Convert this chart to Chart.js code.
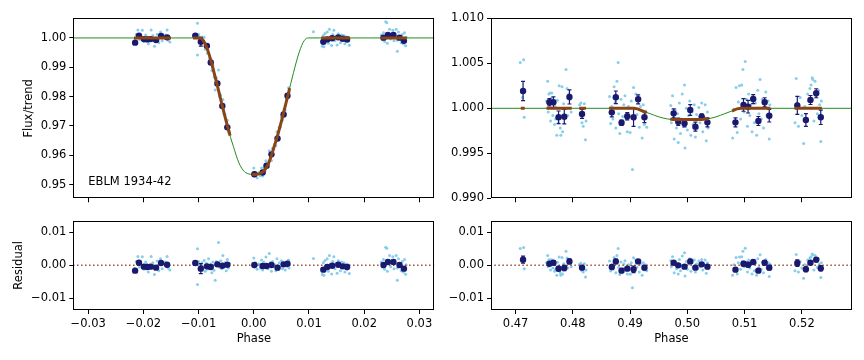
<!DOCTYPE html>
<html>
<head>
<meta charset="utf-8">
<script src="https://cdn.jsdelivr.net/npm/chart.js@4.4.0/dist/chart.umd.min.js"></script>
<style>
html, body { margin:0; padding:0; background:#fff; }
#wrap { position:relative; width:864px; height:360px; overflow:hidden; }
canvas { position:absolute; }
</style>
</head>
<body>
<div id="wrap">
  <canvas id="tl" width="440" height="210" style="left:0;top:0"></canvas>
  <canvas id="bl" width="440" height="150" style="left:0;top:210px"></canvas>
  <canvas id="tr" width="424" height="210" style="left:440px;top:0"></canvas>
  <canvas id="br" width="424" height="150" style="left:440px;top:210px"></canvas>
</div>
<script>
const starName = 'EBLM 1934-42';

// ---- primary eclipse (left) ----
const xTicksA = [-0.03, -0.02, -0.01, 0, 0.01, 0.02, 0.03];
const fluxTicksA = [0.95, 0.96, 0.97, 0.98, 0.99, 1.00];
const resTicks = [-0.01, 0, 0.01];

const modelPhaseA = [-0.0340, -0.0099, -0.0095, -0.0091, -0.0087, -0.0082, -0.0077, -0.0072, -0.0067, -0.0062, -0.0057,
  -0.0052, -0.0047, -0.0042, -0.0037, -0.0032, -0.0027, -0.0022, -0.0017, -0.0012, -0.0006, 0.0000,
  0.0006, 0.0012, 0.0017, 0.0022, 0.0027, 0.0032, 0.0037, 0.0042, 0.0047, 0.0052, 0.0057, 0.0062,
  0.0067, 0.0072, 0.0077, 0.0082, 0.0087, 0.0091, 0.0095, 0.0099, 0.0340];
const modelFluxA = [1.0000, 1.0000, 0.9998, 0.9990, 0.9975, 0.9950, 0.9918, 0.9882, 0.9845, 0.9806, 0.9768,
  0.9730, 0.9694, 0.9660, 0.9630, 0.9600, 0.9574, 0.9556, 0.9544, 0.9538, 0.9535, 0.9534,
  0.9535, 0.9538, 0.9544, 0.9556, 0.9574, 0.9600, 0.9630, 0.9660, 0.9694, 0.9730, 0.9768, 0.9806,
  0.9845, 0.9882, 0.9918, 0.9950, 0.9975, 0.9990, 0.9998, 1.0000, 1.0000];

const brownPhaseA = [-0.0217, -0.0150, null,
  -0.0110, -0.0099, -0.0095, -0.0091, -0.0087, -0.0082, -0.0077, -0.0072, -0.0067, -0.0062, -0.0057, -0.0052, -0.0047, -0.0043, null,
  -0.0003, 0.0000, 0.0006, 0.0012, 0.0017, 0.0022, 0.0027, 0.0032, 0.0037, 0.0042, 0.0047, 0.0052, 0.0057, 0.0062, 0.0065, null,
  0.0122, 0.0174, null, 0.0230, 0.0277];
const brownFluxA = [1, 1, null,
  1, 1, 0.9998, 0.9990, 0.9975, 0.9950, 0.9918, 0.9882, 0.9845, 0.9806, 0.9768, 0.9730, 0.9694, 0.9667, null,
  0.9534, 0.9534, 0.9535, 0.9538, 0.9544, 0.9556, 0.9574, 0.9600, 0.9630, 0.9660, 0.9694, 0.9730, 0.9768, 0.9806, 0.9829, null,
  1, 1, null, 1, 1];

const binPhaseA = [-0.0215, -0.0208, -0.0199, -0.0193, -0.0187, -0.0177, -0.0168, -0.0157,
  -0.0106, -0.0096, -0.0085, -0.0078, -0.0066, -0.0057, -0.0048,
  0.0001, 0.0016, 0.0023, 0.0032, 0.0043, 0.0054, 0.0061,
  0.0126, 0.0133, 0.0142, 0.0153, 0.0161, 0.0169,
  0.0235, 0.0243, 0.0253, 0.0264, 0.0272];
const binFluxA = [0.9984, 1.0008, 0.9996, 0.9995, 0.9996, 0.9993, 1.0007, 1.0002,
  1.0008, 0.9987, 0.9973, 0.9916, 0.9845, 0.9768, 0.9695,
  0.9535, 0.9541, 0.9564, 0.9603, 0.9657, 0.9739, 0.9803,
  0.9987, 0.9995, 0.9999, 1.0002, 0.9997, 0.9995,
  1.0001, 1.0010, 1.0010, 1.0001, 0.9990];
const binErrA = [0.0005, 0.0005, 0.0005, 0.0005, 0.0005, 0.0005, 0.0005, 0.0005,
  0.0005, 0.0015, 0.0005, 0.0005, 0.0006, 0.0005, 0.0005,
  0.0004, 0.0004, 0.0004, 0.0004, 0.0004, 0.0004, 0.0004,
  0.0005, 0.0005, 0.0005, 0.0005, 0.0005, 0.0005,
  0.0005, 0.0005, 0.0005, 0.0005, 0.0005];
const binResA = [-0.0016, 0.0008, -0.0004, -0.0005, -0.0004, -0.0007, 0.0007, 0.0002,
  0.0007, -0.0010, -0.0003, -0.0005, 0.0003, -0.0001, 0.0002,
  0.0001, -0.0002, -0.0002, 0.0001, -0.0007, 0.0003, 0.0005,
  -0.0013, -0.0005, -0.0001, 0.0002, -0.0003, -0.0005,
  0.0001, 0.0010, 0.0010, 0.0001, -0.0010];

const rawPhaseA = [
  -0.0216, -0.0213, -0.0210, -0.0207, -0.0205, -0.0202, -0.0199, -0.0196, -0.0194, -0.0191, -0.0189, -0.0186,
  -0.0183, -0.0180, -0.0178, -0.0175, -0.0172, -0.0169, -0.0166, -0.0163, -0.0160, -0.0157, -0.0155, -0.0152,
  -0.0108, -0.0104, -0.0102, -0.0102, -0.0100, -0.0098, -0.0096, -0.0094, -0.0092, -0.0090, -0.0088, -0.0086,
  -0.0084, -0.0082, -0.0080, -0.0078, -0.0076, -0.0074, -0.0072, -0.0070, -0.0068, -0.0064, -0.0062, -0.0060,
  -0.0058, -0.0056, -0.0054, -0.0052, -0.0050, -0.0048, -0.0046, -0.0044,
  0.0000, 0.0001, 0.0003, 0.0006, 0.0009, 0.0012, 0.0014, 0.0016, 0.0018, 0.0020, 0.0022, 0.0026, 0.0028,
  0.0030, 0.0032, 0.0034, 0.0036, 0.0038, 0.0040, 0.0042, 0.0044, 0.0046, 0.0048, 0.0050, 0.0052, 0.0055,
  0.0057, 0.0059, 0.0061, 0.0063, 0.0064,
  0.0108, 0.0123, 0.0124, 0.0126, 0.0127, 0.0129, 0.0131, 0.0133, 0.0135, 0.0137, 0.0139, 0.0141, 0.0143,
  0.0145, 0.0147, 0.0149, 0.0151, 0.0153, 0.0155, 0.0157, 0.0159, 0.0161, 0.0163, 0.0165, 0.0167, 0.0169,
  0.0171, 0.0173,
  0.0231, 0.0233, 0.0235, 0.0237, 0.0239, 0.0241, 0.0242, 0.0244, 0.0246, 0.0248, 0.0250, 0.0252, 0.0254,
  0.0256, 0.0258, 0.0260, 0.0260, 0.0262, 0.0265, 0.0267, 0.0269, 0.0271, 0.0273, 0.0275, 0.0276];
const rawFluxA = [
  0.9990, 1.0012, 1.0027, 0.9995, 1.0005, 1.0026, 0.9988, 1.0010, 1.0004, 0.9980, 0.9994, 1.0027,
  1.0008, 0.9972, 0.9996, 1.0013, 0.9984, 1.0020, 0.9990, 1.0006, 1.0010, 1.0027, 0.9992, 0.9986,
  1.0010, 1.0003, 1.0050, 0.9942, 1.0012, 1.0002, 0.9987, 1.0003, 0.9988, 1.0002, 0.9961, 0.9976,
  0.9948, 0.9970, 0.9929, 0.9928, 0.9889, 0.9906, 0.9867, 0.9822, 0.9864, 0.9891, 0.9800, 0.9805,
  0.9766, 0.9790, 0.9741, 0.9738, 0.9700, 0.9719, 0.9679, 0.9680,
  0.9556, 0.9529, 0.9542, 0.9523, 0.9540, 0.9530, 0.9556, 0.9529, 0.9556, 0.9545, 0.9581, 0.9560, 0.9615,
  0.9598, 0.9582, 0.9624, 0.9620, 0.9638, 0.9632, 0.9680, 0.9662, 0.9695, 0.9695, 0.9730, 0.9720, 0.9757,
  0.9754, 0.9793, 0.9794, 0.9830, 0.9814,
  1.0021, 0.9988, 0.9972, 1.0008, 0.9970, 1.0015, 0.9994, 1.0020, 0.9982, 1.0030, 1.0004, 0.9974, 1.0012,
  1.0026, 0.9990, 1.0006, 0.9976, 1.0014, 1.0002, 0.9984, 1.0010, 0.9996, 1.0008, 0.9980, 1.0004, 0.9988,
  1.0002, 0.9975,
  1.0010, 0.9994, 1.0018, 0.9988, 1.0055, 1.0052, 0.9982, 1.0008, 1.0030, 0.9996, 1.0014, 1.0026, 0.9990,
  1.0006, 1.0030, 0.9992, 0.9955, 1.0020, 1.0004, 0.9984, 1.0012, 0.9980, 1.0018, 0.9973, 1.0002];
const rawResA = [
  -0.0010, 0.0012, 0.0027, -0.0005, 0.0005, 0.0026, -0.0012, 0.0010, 0.0004, -0.0020, -0.0006, 0.0027,
  0.0008, -0.0028, -0.0004, 0.0013, -0.0016, 0.0020, -0.0010, 0.0006, 0.0010, 0.0027, -0.0008, -0.0014,
  0.0010, 0.0003, 0.0050, -0.0058, 0.0012, 0.0002, -0.0010, 0.0008, -0.0004, 0.0015, -0.0018, 0.0006,
  -0.0012, 0.0020, -0.0008, 0.0004, -0.0022, 0.0010, -0.0015, -0.0045, 0.0012, 0.0069, -0.0006, 0.0014,
  -0.0010, 0.0030, -0.0004, 0.0008, -0.0016, 0.0018, -0.0008, 0.0006,
  0.0022, -0.0005, 0.0008, -0.0012, 0.0004, -0.0008, 0.0016, -0.0014, 0.0010, -0.0006, 0.0025, -0.0010, 0.0036,
  0.0008, -0.0018, 0.0012, -0.0004, 0.0002, -0.0016, 0.0020, -0.0012, 0.0008, -0.0006, 0.0014, -0.0010, 0.0004,
  -0.0014, 0.0010, -0.0004, 0.0016, -0.0008,
  0.0021, -0.0012, -0.0028, 0.0008, -0.0030, 0.0015, -0.0006, 0.0020, -0.0018, 0.0030, 0.0004, -0.0026, 0.0012,
  0.0026, -0.0010, 0.0006, -0.0024, 0.0014, 0.0002, -0.0016, 0.0010, -0.0004, 0.0008, -0.0020, 0.0004, -0.0012,
  0.0002, -0.0025,
  0.0010, -0.0006, 0.0018, -0.0012, 0.0055, 0.0052, -0.0018, 0.0008, 0.0030, -0.0004, 0.0014, 0.0026, -0.0010,
  0.0006, 0.0030, -0.0008, -0.0045, 0.0020, 0.0004, -0.0016, 0.0012, -0.0020, 0.0018, -0.0027, 0.0002];

// ---- secondary eclipse (right) ----
const xTicksB = [0.47, 0.48, 0.49, 0.50, 0.51, 0.52];
const fluxTicksB = [0.990, 0.995, 1.000, 1.005, 1.010];

const modelPhaseB = [0.4600, 0.4906, 0.4913, 0.4920, 0.4935, 0.4950, 0.4965, 0.4975, 0.5025, 0.5035, 0.5050,
  0.5065, 0.5080, 0.5087, 0.5094, 0.5340];
const modelFluxB = [1, 1, 0.99993, 0.99975, 0.9994, 0.99905, 0.99882, 0.99876, 0.99876, 0.99882, 0.99905,
  0.9994, 0.99975, 0.99993, 1, 1];

const brownPhaseB = [0.4709, 0.4716, null, 0.4754, 0.4798, null, 0.4811, 0.4823, null,
  0.4863, 0.4906, 0.4913, 0.4920, 0.4929, null, 0.4970, 0.4975, 0.5025, 0.5035, 0.5037, null,
  0.5078, 0.5080, 0.5087, 0.5094, 0.5145, null, 0.5187, 0.5235];
const brownFluxB = [1, 1, null, 1, 1, null, 1, 1, null,
  1, 1, 0.99993, 0.99975, 0.99950, null, 0.99878, 0.99876, 0.99876, 0.99882, 0.99884, null,
  0.99970, 0.99975, 0.99993, 1, 1, null, 1, 1];

const binPhaseB = [0.4713, 0.4759, 0.4766, 0.4775, 0.4785, 0.4794, 0.4816,
  0.4868, 0.4875, 0.4885, 0.4895, 0.4906, 0.4914, 0.4925,
  0.4976, 0.4984, 0.4995, 0.5005, 0.5014, 0.5025, 0.5035,
  0.5084, 0.5098, 0.5106, 0.5115, 0.5124, 0.5135, 0.5143,
  0.5192, 0.5207, 0.5215, 0.5225, 0.5233];
const binFluxB = [1.00192, 1.00067, 1.00067, 0.99900, 0.99907, 1.00126, 0.99937,
  0.99955, 1.00122, 0.99840, 0.99911, 0.99900, 1.00100, 0.99900,
  0.99944, 0.99851, 0.99833, 0.99981, 0.99796, 0.99907, 0.99844,
  0.99844, 1.00037, 1.00018, 1.00103, 0.99859, 1.00067, 0.99918,
  1.00033, 0.99870, 1.00092, 1.00167, 0.99900];
const binErrB = [0.00107, 0.0004, 0.0006, 0.0007, 0.0008, 0.00078, 0.0005,
  0.0005, 0.0007, 0.0003, 0.0004, 0.0010, 0.0005, 0.0006,
  0.0005, 0.0004, 0.0004, 0.0006, 0.0005, 0.0003, 0.0005,
  0.0005, 0.0007, 0.0007, 0.0005, 0.0005, 0.0005, 0.0007,
  0.0010, 0.0007, 0.0005, 0.0005, 0.0008];
const binResB = [0.0017, 0.0005, 0.0008, -0.0010, -0.0008, 0.0012, -0.0007,
  -0.0005, 0.0012, -0.0016, -0.0010, -0.0012, 0.0012, -0.0007,
  0.0008, 0.0000, -0.0004, 0.0012, -0.0007, 0.0003, -0.0004,
  -0.0013, 0.0005, 0.0002, 0.0010, -0.0016, 0.0008, -0.0007,
  0.0007, -0.0012, 0.0008, 0.0017, -0.0009];

const rawPhaseB = [
  0.4708, 0.4710, 0.4712, 0.4714, 0.4715,
  0.4754, 0.4756, 0.4757, 0.4758, 0.4760, 0.4761, 0.4762, 0.4763, 0.4765, 0.4766, 0.4768, 0.4769, 0.4770,
  0.4772, 0.4773, 0.4775, 0.4776, 0.4778, 0.4779, 0.4781, 0.4782, 0.4784, 0.4786, 0.4788, 0.4790, 0.4791,
  0.4793, 0.4795, 0.4797,
  0.4812, 0.4814, 0.4816, 0.4818, 0.4820, 0.4822, 0.4823,
  0.4864, 0.4866, 0.4868, 0.4870, 0.4872, 0.4874, 0.4875, 0.4877, 0.4879, 0.4880, 0.4882, 0.4884, 0.4886,
  0.4887, 0.4889, 0.4891, 0.4893, 0.4895, 0.4897, 0.4899, 0.4900, 0.4902, 0.4904, 0.4906, 0.4908, 0.4910,
  0.4912, 0.4914, 0.4916, 0.4918, 0.4921, 0.4923, 0.4925, 0.4927, 0.4929,
  0.4971, 0.4972, 0.4974, 0.4976, 0.4977, 0.4979, 0.4981, 0.4983, 0.4984, 0.4986, 0.4988, 0.4990, 0.4991,
  0.4993, 0.4995, 0.4996, 0.4998, 0.5000, 0.5002, 0.5004, 0.5006, 0.5008, 0.5010, 0.5012, 0.5014, 0.5016,
  0.5018, 0.5020, 0.5022, 0.5025, 0.5027, 0.5029, 0.5031, 0.5033, 0.5035, 0.5036,
  0.5079, 0.5081, 0.5083, 0.5085, 0.5087, 0.5089, 0.5091, 0.5093, 0.5095, 0.5097, 0.5099, 0.5101, 0.5103,
  0.5105, 0.5107, 0.5109, 0.5111, 0.5113, 0.5115, 0.5117, 0.5119, 0.5121, 0.5123, 0.5125, 0.5127, 0.5129,
  0.5131, 0.5133, 0.5135, 0.5137, 0.5139, 0.5141, 0.5143, 0.5144,
  0.5188, 0.5190, 0.5192, 0.5194, 0.5197, 0.5200, 0.5203, 0.5205, 0.5207, 0.5210, 0.5212, 0.5214, 0.5216,
  0.5218, 0.5219, 0.5221, 0.5223, 0.5225, 0.5227, 0.5229, 0.5231, 0.5233, 0.5234];
const rawFluxB = [
  1.0051, 1.0018, 1.0012, 1.0054, 0.9990,
  1.0008, 1.0030, 0.9996, 1.0016, 1.0017, 0.9986, 1.0011, 1.0017, 0.9992, 1.0006, 0.9982, 1.0002, 0.9988,
  0.9970, 1.0009, 0.9984, 1.0025, 0.9978, 0.9970, 1.0024, 0.9974, 1.0005, 0.9990, 1.0043, 1.0022, 0.9992,
  1.0016, 1.0010, 0.9996,
  1.0004, 1.0006, 0.9984, 0.9980, 1.0005, 0.9965, 0.9986,
  1.0013, 0.9983, 1.0002, 0.9988, 1.0024, 1.0007, 0.9978, 1.0030, 1.0051, 0.9994, 0.9972, 1.0010, 0.9984,
  0.9991, 1.0004, 1.0014, 0.9988, 0.9974, 1.0002, 1.0000, 0.9973, 1.0008, 0.9932, 1.0023, 0.9988, 1.0016,
  0.9993, 1.0010, 0.9979, 1.0002, 0.9967, 1.0004, 0.9982, 0.9997, 0.9979,
  1.0003, 0.9984, 1.0014, 0.9990, 0.9966, 0.9998, 0.9978, 0.9994, 0.9962, 1.0006, 0.9972, 0.9988, 1.0016,
  0.9980, 1.0026, 0.9956, 1.0000, 0.9976, 0.9992, 1.0008, 0.9970, 0.9996, 0.9982, 1.0004, 0.9968, 0.9993,
  0.9978, 1.0001, 0.9984, 1.0006, 0.9974, 0.9990, 1.0004, 0.9964, 0.9996, 0.9978,
  0.9967, 0.9999, 0.9985, 1.0023, 0.9973, 1.0007, 1.0025, 0.9988, 1.0026, 1.0043, 0.9996, 1.0052, 1.0010,
  0.9980, 1.0016, 0.9992, 1.0004, 0.9974, 1.0012, 0.9984, 1.0006, 0.9970, 1.0020, 0.9994, 1.0032, 0.9988,
  1.0010, 0.9978, 1.0002, 1.0018, 0.9992, 1.0008, 0.9966, 1.0004,
  0.9984, 1.0033, 1.0006, 0.9980, 1.0012, 0.9992, 0.9961, 1.0002, 0.9988, 1.0016, 1.0008, 1.0022, 1.0026,
  1.0034, 1.0032, 0.9986, 1.0030, 1.0014, 0.9994, 1.0020, 1.0004, 0.9963, 1.0008];
const rawResB = [
  0.0051, 0.0018, 0.0012, 0.0054, -0.0010,
  0.0008, 0.0030, -0.0004, 0.0016, 0.0017, -0.0014, 0.0011, 0.0017, -0.0008, 0.0006, -0.0018, 0.0002, -0.0012,
  -0.0030, 0.0009, -0.0016, 0.0025, -0.0022, -0.0030, 0.0024, -0.0026, 0.0005, -0.0010, 0.0043, 0.0022, -0.0008,
  0.0016, 0.0010, -0.0004,
  0.0004, 0.0006, -0.0016, -0.0020, 0.0005, -0.0035, -0.0014,
  0.0013, -0.0017, 0.0002, -0.0012, 0.0024, 0.0007, -0.0022, 0.0030, 0.0051, -0.0006, -0.0028, 0.0010, -0.0016,
  -0.0009, 0.0004, 0.0014, -0.0012, -0.0026, 0.0002, 0.0000, -0.0027, 0.0008, -0.0068, 0.0023, -0.0012, 0.0016,
  -0.0006, 0.0012, -0.0020, 0.0004, -0.0030, 0.0008, -0.0014, 0.0002, -0.0016,
  0.0015, -0.0004, 0.0026, 0.0002, -0.0022, 0.0010, -0.0010, 0.0006, -0.0026, 0.0018, -0.0016, 0.0000, 0.0028,
  -0.0008, 0.0038, -0.0032, 0.0012, -0.0012, 0.0004, 0.0020, -0.0018, 0.0008, -0.0006, 0.0016, -0.0020, 0.0005,
  -0.0010, 0.0013, -0.0004, 0.0018, -0.0014, 0.0002, 0.0016, -0.0024, 0.0008, -0.0010,
  -0.0030, 0.0002, -0.0014, 0.0024, -0.0026, 0.0008, 0.0025, -0.0012, 0.0026, 0.0043, -0.0004, 0.0052, 0.0010,
  -0.0020, 0.0016, -0.0008, 0.0004, -0.0026, 0.0012, -0.0016, 0.0006, -0.0030, 0.0020, -0.0006, 0.0032, -0.0012,
  0.0010, -0.0022, 0.0002, 0.0018, -0.0008, 0.0008, -0.0034, 0.0004,
  -0.0016, 0.0033, 0.0006, -0.0020, 0.0012, -0.0008, -0.0039, 0.0002, -0.0012, 0.0016, 0.0008, 0.0022, 0.0026,
  0.0034, 0.0032, -0.0014, 0.0030, 0.0014, -0.0006, 0.0020, 0.0004, -0.0037, 0.0008];

// ---- drawing ----
const FS = 11.5;
Chart.defaults.font.family = "'DejaVu Sans', sans-serif";
Chart.defaults.font.size = FS;
Chart.defaults.color = '#000';

const RAW = 'skyblue', BIN = 'midnightblue', MODEL = 'forestgreen', FIT = 'saddlebrown';

const pts = (xs, ys) => xs.map((x, i) => ({ x: x === null ? xs[i - 1] : x, y: ys[i] }));
const fmt = d => v => (v < -1e-12 ? '\u2212' : '') + Math.abs(v).toFixed(d);
const blank = () => '';

const frame = {
  id: 'frame',
  afterDraw(chart) {
    const { ctx, chartArea: a } = chart;
    ctx.save();
    ctx.strokeStyle = '#000'; ctx.lineWidth = 1;
    ctx.strokeRect(Math.round(a.left) + 0.5, Math.round(a.top) + 0.5,
      Math.round(a.right - a.left) - 1, Math.round(a.bottom - a.top) - 1);
    ctx.restore();
  }
};

const errorBars = {
  id: 'errorBars',
  beforeDatasetDraw(chart, args) {
    const ds = chart.data.datasets[args.index];
    if (!ds.errors) return;
    const { ctx, scales: { x, y } } = chart;
    ctx.save();
    ctx.strokeStyle = ds.backgroundColor; ctx.lineWidth = 1.2;
    ds.data.forEach((p, i) => {
      const px = x.getPixelForValue(p.x);
      const y1 = y.getPixelForValue(p.y - ds.errors[i]);
      const y2 = y.getPixelForValue(p.y + ds.errors[i]);
      ctx.beginPath();
      ctx.moveTo(px, y1); ctx.lineTo(px, y2);
      ctx.moveTo(px - 2, y1); ctx.lineTo(px + 2, y1);
      ctx.moveTo(px - 2, y2); ctx.lineTo(px + 2, y2);
      ctx.stroke();
    });
    ctx.restore();
  }
};

const starLabel = {
  id: 'starLabel',
  afterDraw(chart) {
    const { ctx, chartArea: a } = chart;
    ctx.save();
    ctx.font = FS + "px 'DejaVu Sans'";
    ctx.fillStyle = '#000';
    ctx.fillText(starName, a.left + 15, a.bottom - 13.5);
    ctx.restore();
  }
};

function axis(min, max, ticks, label, size, title, titlePad) {
  return {
    type: 'linear', min, max,
    afterBuildTicks: s => { s.ticks = ticks.map(v => ({ value: v })); },
    afterFit: s => { if (s.isHorizontal()) s.height = size; else s.width = size; },
    grid: { drawOnChartArea: false, drawTicks: true, tickLength: 4, color: '#000', lineWidth: 1 },
    border: { display: false },
    ticks: { padding: 3, autoSkip: false, maxRotation: 0, callback: v => label(v) },
    title: title ? { display: true, text: title, padding: titlePad } : { display: false }
  };
}

const rawSet = (xs, ys) => ({ data: pts(xs, ys), pointRadius: 1.5, pointBorderWidth: 0,
  backgroundColor: RAW, borderColor: RAW, order: 5 });
const lineSet = (xs, ys, color, w, order) => ({ data: pts(xs, ys), showLine: true, pointRadius: 0,
  borderColor: color, borderWidth: w, spanGaps: false, cubicInterpolationMode: 'monotone', order });
const binSet = (xs, ys, errs) => ({ data: pts(xs, ys), errors: errs, pointRadius: 3.2, pointBorderWidth: 0,
  backgroundColor: BIN, borderColor: BIN, order: 2 });
const zeroSet = (lo, hi) => ({ data: [{ x: lo, y: 0 }, { x: hi, y: 0 }], showLine: true, pointRadius: 0,
  borderColor: 'sienna', borderWidth: 1.5, borderDash: [1.5, 2.5], order: 3 });

function panel(id, datasets, pad, x, y, extra) {
  return new Chart(document.getElementById(id), {
    type: 'scatter',
    data: { datasets },
    options: {
      responsive: false, animation: false, events: [],
      layout: { padding: pad },
      plugins: { legend: { display: false }, tooltip: { enabled: false } },
      scales: { x, y }
    },
    plugins: [errorBars, frame].concat(extra || [])
  });
}

// top left: primary eclipse
panel('tl', [
  rawSet(rawPhaseA, rawFluxA),
  lineSet(modelPhaseA, modelFluxA, MODEL, 1, 4),
  binSet(binPhaseA, binFluxA, binErrA),
  lineSet(brownPhaseA, brownFluxA, FIT, 3, 1)
], { left: 0, top: 18.3, right: 5.7, bottom: 0 },
  axis(-0.0327, 0.0327, xTicksA, blank, 11.7),
  axis(0.9453, 1.0067, fluxTicksA, fmt(2), 73.3, 'Flux/trend', { top: 22, bottom: 0 }),
  [starLabel]);

// bottom left: residuals
panel('bl', [
  rawSet(rawPhaseA, rawResA),
  zeroSet(-0.04, 0.04),
  binSet(binPhaseA, binResA, binErrA)
], { left: 0, top: 10.7, right: 5.7, bottom: 0 },
  axis(-0.0327, 0.0327, xTicksA, fmt(2), 50, 'Phase', { top: 0, bottom: 14 }),
  axis(-0.0135, 0.0135, resTicks, fmt(2), 73.3, 'Residual', { top: 12, bottom: 0 }));

// top right: secondary eclipse
panel('tr', [
  rawSet(rawPhaseB, rawFluxB),
  lineSet(modelPhaseB, modelFluxB, MODEL, 1, 4),
  binSet(binPhaseB, binFluxB, binErrB),
  lineSet(brownPhaseB, brownFluxB, FIT, 3, 1)
], { left: 0, top: 18.3, right: 12.3, bottom: 0 },
  axis(0.4657, 0.5287, xTicksB, blank, 11.7),
  axis(0.990, 1.010, fluxTicksB, fmt(3), 51));

// bottom right: residuals
panel('br', [
  rawSet(rawPhaseB, rawResB),
  zeroSet(0.46, 0.54),
  binSet(binPhaseB, binResB, binErrB)
], { left: 0, top: 10.7, right: 12.3, bottom: 0 },
  axis(0.4657, 0.5287, xTicksB, fmt(2), 50, 'Phase', { top: 0, bottom: 14 }),
  axis(-0.0135, 0.0135, resTicks, fmt(2), 51));
</script>
</body>
</html>
